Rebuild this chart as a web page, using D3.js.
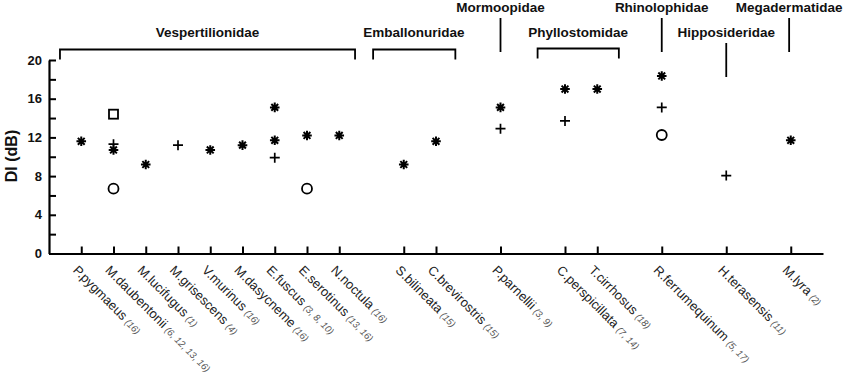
<!DOCTYPE html>
<meta charset="utf-8">
<script src="https://d3js.org/d3.v7.min.js"></script>
<style>
  body { margin: 0; background: #fff; }
  text { font-family: "Liberation Sans", Arial, sans-serif; }
</style>
<div id="chart"></div>
<script>

// species along the x axis (name, references) and their slot on the axis
var species = ["P.pygmaeus", "M.daubentonii", "M.lucifugus", "M.grisescens", "V.murinus",
  "M.dasycneme", "E.fuscus", "E.serotinus", "N.noctula", "S.bilineata", "C.brevirostris",
  "P.parnellii", "C.perspicillata", "T.cirrhosus", "R.ferrumequinum", "H.terasensis", "M.lyra"];
var refs = ["(16)", "(6, 12, 13, 16)", "(1)", "(4)", "(16)", "(16)", "(3, 8, 10)", "(13, 16)", "(16)",
  "(15)", "(15)", "(3, 9)", "(7, 14)", "(18)", "(5, 17)", "(11)", "(2)"];
var slots = [0, 1, 2, 3, 4, 5, 6, 7, 8, 10, 11, 13, 15, 16, 18, 20, 22];

// DI values, one list per marker type
var starSpecies = ["P.pygmaeus", "M.daubentonii", "M.lucifugus", "V.murinus", "M.dasycneme",
  "E.fuscus", "E.fuscus", "E.serotinus", "N.noctula", "S.bilineata", "C.brevirostris",
  "P.parnellii", "C.perspicillata", "T.cirrhosus", "R.ferrumequinum", "M.lyra"];
var starValues = [11.6, 10.7, 9.2, 10.7, 11.2, 15.1, 11.7, 12.2, 12.2, 9.2, 11.6, 15.1, 17.0, 17.0, 18.35, 11.7];

var plusSpecies = ["M.daubentonii", "M.grisescens", "E.fuscus", "P.parnellii", "C.perspicillata",
  "R.ferrumequinum", "H.terasensis"];
var plusValues = [11.3, 11.2, 9.9, 12.9, 13.7, 15.1, 8.05];

var circleSpecies = ["M.daubentonii", "E.serotinus", "R.ferrumequinum"];
var circleValues = [6.7, 6.7, 12.25];

var squareSpecies = ["M.daubentonii"];
var squareValues = [14.4];

// families: brackets span axis slots, single lines sit on one slot
var families = [
  {name: "Vespertilionidae", kind: "bracket", from: -0.66, to: 8.49, row: 1},
  {name: "Emballonuridae", kind: "bracket", from: 9.05, to: 11.6, row: 1},
  {name: "Mormoopidae", kind: "line", at: 13, row: 0},
  {name: "Phyllostomidae", kind: "bracket", from: 14.15, to: 16.67, row: 1},
  {name: "Rhinolophidae", kind: "line", at: 18, row: 0},
  {name: "Hipposideridae", kind: "line", at: 20, row: 1},
  {name: "Megadermatidae", kind: "line", at: 21.95, row: 0}
];

var width = 843, height = 381;

var svg = d3.select("#chart")
  .append("svg")
    .attr("width", width)
    .attr("height", height);

var x = d3.scaleLinear()
  .domain([-1, 23])
  .range([49, 823]);

var y = d3.scaleLinear()
  .domain([0, 20])
  .range([253.5, 60]);

function slotOf(name) { return slots[species.indexOf(name)]; }

// Y axis, ticks pointing inwards
var yAxis = svg.append("g")
  .attr("transform", "translate(" + x(-1) + ",0)")
  .call(d3.axisLeft(y)
    .tickValues(d3.range(0, 21, 2))
    .tickSizeInner(-7)
    .tickSizeOuter(0)
    .tickPadding(7)
    .tickFormat(function(d) { return d % 4 === 0 ? d : ""; }));
yAxis.select(".domain").attr("stroke-width", 2.2);
yAxis.selectAll(".tick line").attr("stroke-width", 2);
yAxis.selectAll(".tick text")
  .style("font-size", "13px")
  .style("font-weight", "bold")
  .attr("fill", "#111");

svg.append("text")
  .attr("transform", "translate(17,156) rotate(-90)")
  .attr("text-anchor", "middle")
  .style("font-size", "16px")
  .style("font-weight", "bold")
  .attr("fill", "#111")
  .text("DI (dB)");

// X axis, ticks pointing up
var xAxis = svg.append("g")
  .attr("transform", "translate(0," + y(0) + ")")
  .call(d3.axisBottom(x)
    .tickValues(slots)
    .tickSizeInner(-7)
    .tickSizeOuter(0)
    .tickFormat(""));
xAxis.select(".domain").attr("stroke-width", 2.2);
xAxis.selectAll(".tick line").attr("stroke-width", 2);

// rotated species labels
var labels = svg.selectAll(".sp")
  .data(species)
  .enter()
  .append("text")
    .attr("class", "sp")
    .attr("transform", function(d, i) {
      return "translate(" + (x(slots[i]) - 9) + "," + 271 + ") rotate(45)";
    })
    .style("font-size", "13px")
    .attr("fill", "#222");
labels.append("tspan").text(function(d) { return d; });
labels.append("tspan")
  .attr("dx", 3)
  .style("font-size", "9.5px")
  .style("font-style", "italic")
  .attr("fill", "#555")
  .text(function(d, i) { return refs[i]; });

// markers
var star = svg.append("g").selectAll("path")
  .data(starSpecies)
  .enter()
  .append("path")
    .attr("transform", function(d, i) {
      return "translate(" + x(slotOf(d)) + "," + y(starValues[i]) + ")";
    })
    .attr("d", "M0,-4.8V4.8M-4.8,0H4.8M-3.4,-3.4L3.4,3.4M-3.4,3.4L3.4,-3.4")
    .attr("stroke", "#000")
    .attr("stroke-width", 2);

svg.append("g").selectAll("path")
  .data(plusSpecies)
  .enter()
  .append("path")
    .attr("transform", function(d, i) {
      return "translate(" + x(slotOf(d)) + "," + y(plusValues[i]) + ")";
    })
    .attr("d", "M0,-5V5M-5,0H5")
    .attr("stroke", "#000")
    .attr("stroke-width", 1.7);

svg.append("g").selectAll("circle")
  .data(circleSpecies)
  .enter()
  .append("circle")
    .attr("cx", function(d) { return x(slotOf(d)); })
    .attr("cy", function(d, i) { return y(circleValues[i]); })
    .attr("r", 5)
    .attr("fill", "none")
    .attr("stroke", "#000")
    .attr("stroke-width", 1.8);

svg.append("g").selectAll("rect")
  .data(squareSpecies)
  .enter()
  .append("rect")
    .attr("x", function(d) { return x(slotOf(d)) - 4.5; })
    .attr("y", function(d, i) { return y(squareValues[i]) - 4.5; })
    .attr("width", 9)
    .attr("height", 9)
    .attr("fill", "none")
    .attr("stroke", "#000")
    .attr("stroke-width", 1.8);

// family annotations above the plot
var fam = svg.append("g").selectAll("g")
  .data(families)
  .enter()
  .append("g");

fam.filter(function(d) { return d.kind === "bracket"; })
  .append("path")
    .attr("d", function(d) {
      var top = d.name === "Phyllostomidae" ? 48.5 : 49.5;
      return "M" + x(d.from) + "," + (top + 10) + "V" + top + "H" + x(d.to) + "V" + (top + 10);
    })
    .attr("fill", "none")
    .attr("stroke", "#000")
    .attr("stroke-width", 1.8);

fam.filter(function(d) { return d.kind === "line"; })
  .append("line")
    .attr("x1", function(d) { return x(d.at); })
    .attr("x2", function(d) { return x(d.at); })
    .attr("y1", function(d) { return d.row === 0 ? 18 : 43; })
    .attr("y2", function(d) { return d.row === 0 ? 52 : 77; })
    .attr("stroke", "#000")
    .attr("stroke-width", 1.8);

fam.append("text")
  .attr("x", function(d) {
    if (d.kind === "line") return x(d.at);
    if (d.name === "Emballonuridae") return 414;
    return (x(d.from) + x(d.to)) / 2;
  })
  .attr("y", function(d) { return d.row === 0 ? 12 : 37; })
  .attr("text-anchor", "middle")
  .style("font-size", "13.5px")
  .style("font-weight", "bold")
  .attr("fill", "#111")
  .text(function(d) { return d.name; });

</script>
